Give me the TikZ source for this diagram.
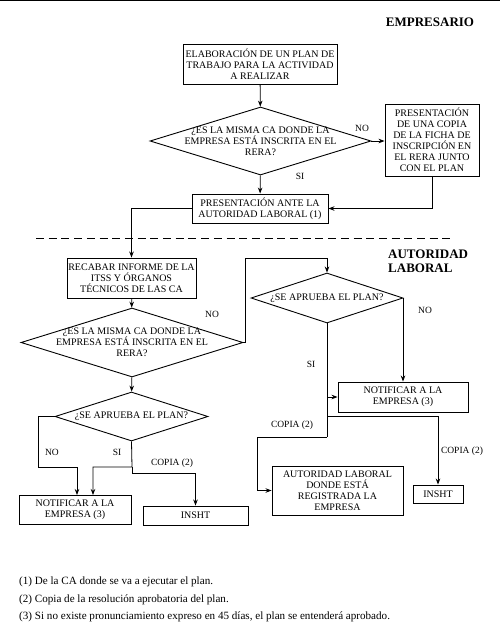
\documentclass[tikz,border=0pt]{standalone}
\usepackage{fontspec}
\setmainfont{Liberation Serif}
\usetikzlibrary{shapes.geometric,arrows.meta}
\tikzset{
caja/.style={
	draw, line width=0.9pt, align=center, inner sep=1pt,
	font=\fontsize{10}{11}\selectfont},
decision/.style={
	draw, line width=0.9pt, diamond, inner sep=0pt},
dtexto/.style={
	align=center, inner sep=0pt, font=\fontsize{10}{11}\selectfont},
etiq/.style={
	font=\fontsize{9.5}{10.5}\selectfont, inner sep=0pt},
titulo/.style={
	font=\fontsize{13}{14}\selectfont\bfseries, inner sep=0pt, align=left},
nota/.style={
	font=\fontsize{11.1}{12}\selectfont, inner sep=0pt, anchor=west},
flecha/.style={
	-{Stealth[length=6pt,width=4.5pt]}, line width=0.8pt},
linea/.style={line width=0.8pt}
}

\begin{document}
\begin{tikzpicture}[x=1pt, y=-1pt]
	\useasboundingbox (0,0) rectangle (500,635);
	\draw[line width=1.5pt] (0,0.5) -- (500,0.5);
	% empresario
	\node[titulo] (tit1) at (430,22) {EMPRESARIO};
	\node[caja, minimum width=154pt, minimum height=40pt] (plan) at (260,64)
		{ELABORACIÓN DE UN PLAN DE\\TRABAJO PARA LA ACTIVIDAD\\A REALIZAR};
	\node[decision, minimum width=221pt, minimum height=68pt] (q1) at (260.5,141) {};
	\node[dtexto] (q1t) at (q1) {¿ES LA MISMA CA DONDE LA\\EMPRESA ESTÁ INSCRITA EN EL\\RERA?};
	\node[caja, minimum width=94pt, minimum height=72pt] (copia) at (432,140)
		{PRESENTACIÓN\\DE UNA COPIA\\DE LA FICHA DE\\INSCRIPCIÓN EN\\EL RERA JUNTO\\CON EL PLAN};
	\node[caja, minimum width=136pt, minimum height=29pt] (pres) at (260,208.5)
		{PRESENTACIÓN ANTE LA\\AUTORIDAD LABORAL (1)};
	\node[etiq] (no1) at (362,128) {NO};
	\node[etiq] (si1) at (300,176) {SI};
	\draw[flecha] (plan) -- (q1);
	\draw[flecha] (q1.east) -- (copia.west |- q1.east);
	\draw[flecha] (q1) -- (pres);
	\draw[flecha] (copia.south) |- (pres.east);
	% separacion
	\draw[line width=0.9pt, dash pattern=on 8pt off 4.7pt] (36,238) -- (453,238);
	% autoridad laboral
	\node[titulo, anchor=north west] (tit2) at (388,250) {AUTORIDAD\\LABORAL};
	\node[caja, minimum width=129pt, minimum height=40pt] (recabar) at (131.5,278)
		{RECABAR INFORME DE LA\\ITSS Y ÓRGANOS\\TÉCNICOS DE LAS CA};
	\draw[flecha] (pres.west) -| (recabar.north);
	\node[decision, minimum width=222pt, minimum height=69pt] (q2) at (132,342.5) {};
	\node[dtexto] (q2t) at (q2) {¿ES LA MISMA CA DONDE LA\\EMPRESA ESTÁ INSCRITA EN EL\\RERA?};
	\node[etiq] (no2) at (212,314) {NO};
	\draw[flecha] (recabar) -- (q2);
	% rama derecha
	\node[decision, minimum width=152pt, minimum height=50pt] (q3) at (327,298) {};
	\node[dtexto] (q3t) at (q3) {¿SE APRUEBA EL PLAN?};
	\coordinate (giro) at (245,258);
	\draw[flecha] (q2.east) -- (giro |- q2.east) -- (giro) -| (q3.north);
	\node[caja, minimum width=130pt, minimum height=30pt] (notif2) at (403,397)
		{NOTIFICAR A LA\\EMPRESA (3)};
	\node[caja, minimum width=50pt, minimum height=18pt] (insht2) at (438,494) {INSHT};
	\node[caja, minimum width=131pt, minimum height=49pt] (autlab) at (337.5,490.5)
		{AUTORIDAD LABORAL\\DONDE ESTÁ\\REGISTRADA LA\\EMPRESA};
	\node[etiq] (no3) at (425,310) {NO};
	\node[etiq] (si3) at (311,364) {SI};
	\node[etiq] (cop3) at (292,425) {COPIA (2)};
	\node[etiq] (cop4) at (462,451) {COPIA (2)};
	\coordinate (b1) at (327,416);
	\coordinate (b2) at (327,437);
	\coordinate (b3) at (257,437);
	\draw[flecha] (q3.east) -| (notif2.north);
	\draw[linea] (q3.south) -- (b2);
	\draw[flecha] (q3.south |- notif2.west) -- (notif2.west);
	\draw[flecha] (b1) -| (insht2.north);
	\draw[flecha] (b2) -- (b3) |- (autlab.west);
	% rama izquierda
	\node[decision, minimum width=153pt, minimum height=49pt] (q4) at (131.5,416.5) {};
	\node[dtexto] (q4t) at (q4) {¿SE APRUEBA EL PLAN?};
	\draw[flecha] (q2) -- (q4);
	\node[caja, minimum width=112pt, minimum height=29pt] (notif1) at (75,509.5)
		{NOTIFICAR A LA\\EMPRESA (3)};
	\node[caja, minimum width=105pt, minimum height=19pt] (insht1) at (195.5,515.5) {INSHT};
	\node[etiq] (no4) at (52,452) {NO};
	\node[etiq] (si4) at (117,452) {SI};
	\node[etiq] (cop1) at (172,463) {COPIA (2)};
	\coordinate (c1) at (38,467);
	\coordinate (c2) at (132,467);
	\coordinate (c3) at (132,473);
	\draw[flecha] (q4.west) -- (c1 |- q4.west) -- (c1) -- ++(39,0) -- ++(0,28);
	\draw[flecha] (q4.south) -- (c2) -- ++(-39,0) -- ++(0,28);
	\draw[flecha] (c2) -- (c3) -| (insht1.north);
	% notas
	\node[nota] (n1) at (19,582) {(1) De la CA donde se va a ejecutar el plan.};
	\node[nota] (n2) at (19,600) {(2) Copia de la resolución aprobatoria del plan.};
	\node[nota] (n3) at (19,617) {(3) Si no existe pronunciamiento expreso en 45 días, el plan se entenderá aprobado.};
\end{tikzpicture}
\end{document}
